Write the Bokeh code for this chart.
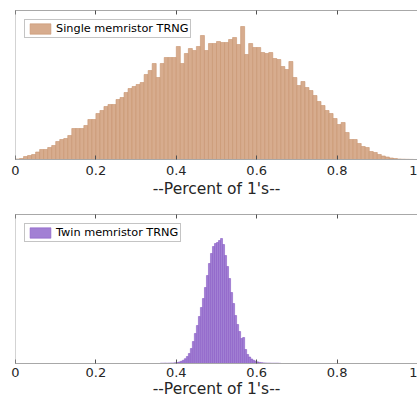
import numpy as np
from bokeh.plotting import figure
from bokeh.models import Range1d, LinearAxis, FixedTicker, Span, Legend, LegendItem, ColumnDataSource
from bokeh.layouts import column
from bokeh.embed import file_html
from bokeh.resources import INLINE

# ---- data (arbitrary count units) ----
x_ticks = [0, 0.2, 0.4, 0.6, 0.8, 1]
x_tick_labels = ["0", "0.2", "0.4", "0.6", "0.8", "1"]
x_label = "--Percent of 1's--"

single_label = "Single memristor TRNG"
single_bin_start = 0.0
single_bin_width = 0.01
single_counts = [
    0.5, 1, 3, 4, 5, 7.5, 10, 10, 12, 14,
    18, 20, 21, 24, 31, 31, 31, 34, 40, 40,
    46, 49, 53, 55, 55, 60, 62, 67, 71, 73,
    75, 77, 85, 89, 96, 82, 96, 102, 102, 102,
    113, 96, 106, 111, 109, 113, 124, 109, 116, 116,
    118, 117, 117, 120, 122, 115, 133, 105, 116, 112,
    112, 107, 106, 107, 101, 100, 93, 90, 98, 82,
    74, 78, 72, 69, 64, 58, 54, 49, 46, 41,
    35, 37, 27, 20, 20, 16, 13, 12, 8, 7,
    5, 3.5, 2.5, 1.5, 1, 0.5, 0.3, 0.2, 0.1, 0,
]

twin_label = "Twin memristor TRNG"
twin_bin_start = 0.36
twin_bin_width = 0.005
twin_counts = [
    0.3, 0.3, 0.4, 0.3, 0.4, 0.5, 0.5, 0.7, 1.0, 1.5,
    2.2, 3.2, 4.8, 7.0, 10, 15, 22, 30, 38, 47,
    56, 65, 76, 88, 100, 110, 117, 120, 121, 123,
    125, 119, 108, 97, 85, 71, 60, 48, 39, 32,
    25, 26, 14, 9, 6.5, 4.5, 3.2, 2.3, 1.6, 1.1,
    0.8, 0.6, 0.5, 0.4, 0.4, 0.3, 0.3, 0.3, 0.3, 0.2,
]

y_max = 149

FONT = "DejaVu Sans"
BORDER = "#a8a8a8"
TICK = "#505050"
TEXT = "#262626"


def make_hist(counts, start, width, fill, edge, label, height, top_b, bottom_b,
              tick_standoff, label_standoff):
    p = figure(width=417, height=height, x_range=Range1d(0, 1), y_range=Range1d(0, y_max),
               output_backend="svg", toolbar_location=None, y_axis_location=None,
               min_border_left=15, min_border_right=0, min_border_top=top_b,
               min_border_bottom=bottom_b)
    p.outline_line_color = None
    p.xgrid.grid_line_color = None
    p.ygrid.grid_line_color = None
    p.background_fill_color = "white"
    p.border_fill_color = "white"

    centers = start + width * (np.arange(len(counts)) + 0.5)
    src = ColumnDataSource(dict(x=centers, top=counts))
    r = p.vbar(x="x", top="top", width=width, bottom=0, source=src,
               fill_color=fill, line_color=edge, line_width=0.6)

    ax = p.xaxis[0]
    ax.ticker = FixedTicker(ticks=x_ticks)
    ax.major_label_overrides = {t: s for t, s in zip(x_ticks, x_tick_labels)}
    ax.major_label_text_font = FONT
    ax.major_label_text_font_size = "13px"
    ax.major_label_text_color = TEXT
    ax.major_label_standoff = tick_standoff
    ax.major_tick_in = 4
    ax.major_tick_out = 0
    ax.major_tick_line_color = TICK
    ax.minor_tick_line_color = None
    ax.axis_line_color = BORDER
    ax.axis_label = x_label
    ax.axis_label_text_font = FONT
    ax.axis_label_text_font_size = "15.5px"
    ax.axis_label_text_font_style = "normal"
    ax.axis_label_text_color = TEXT
    ax.axis_label_standoff = label_standoff

    top_ax = LinearAxis(ticker=FixedTicker(ticks=x_ticks),
                        major_label_text_color=None, major_label_text_font_size="1px",
                        major_label_standoff=0,
                        major_tick_in=4, major_tick_out=0, major_tick_line_color=TICK,
                        minor_tick_line_color=None, axis_line_color=BORDER)
    p.add_layout(top_ax, "above")

    p.add_layout(Span(location=0, dimension="height", line_color=BORDER, line_width=1))

    leg = Legend(items=[LegendItem(label=label, renderers=[r])], location="top_left",
                 margin=9, padding=2, spacing=0, label_standoff=3,
                 glyph_width=26, glyph_height=13, label_height=13,
                 label_text_font=FONT, label_text_font_size="11.3px", label_text_color="#000000",
                 border_line_color="#8a8a8a", border_line_width=1,
                 background_fill_color="white", background_fill_alpha=1.0)
    p.add_layout(leg)
    return p


p1 = make_hist(single_counts, single_bin_start, single_bin_width, "#d7ac8e", "#c8946f",
               single_label, 208, 10, 49, 6, 2)
p2 = make_hist(twin_counts, twin_bin_start, twin_bin_width, "#a280d4", "#8a5cc6",
               twin_label, 192, 6, 37, 4, 0)

layout = column(p1, p2, spacing=0)

open("out.html", "w").write(file_html(layout, INLINE))
